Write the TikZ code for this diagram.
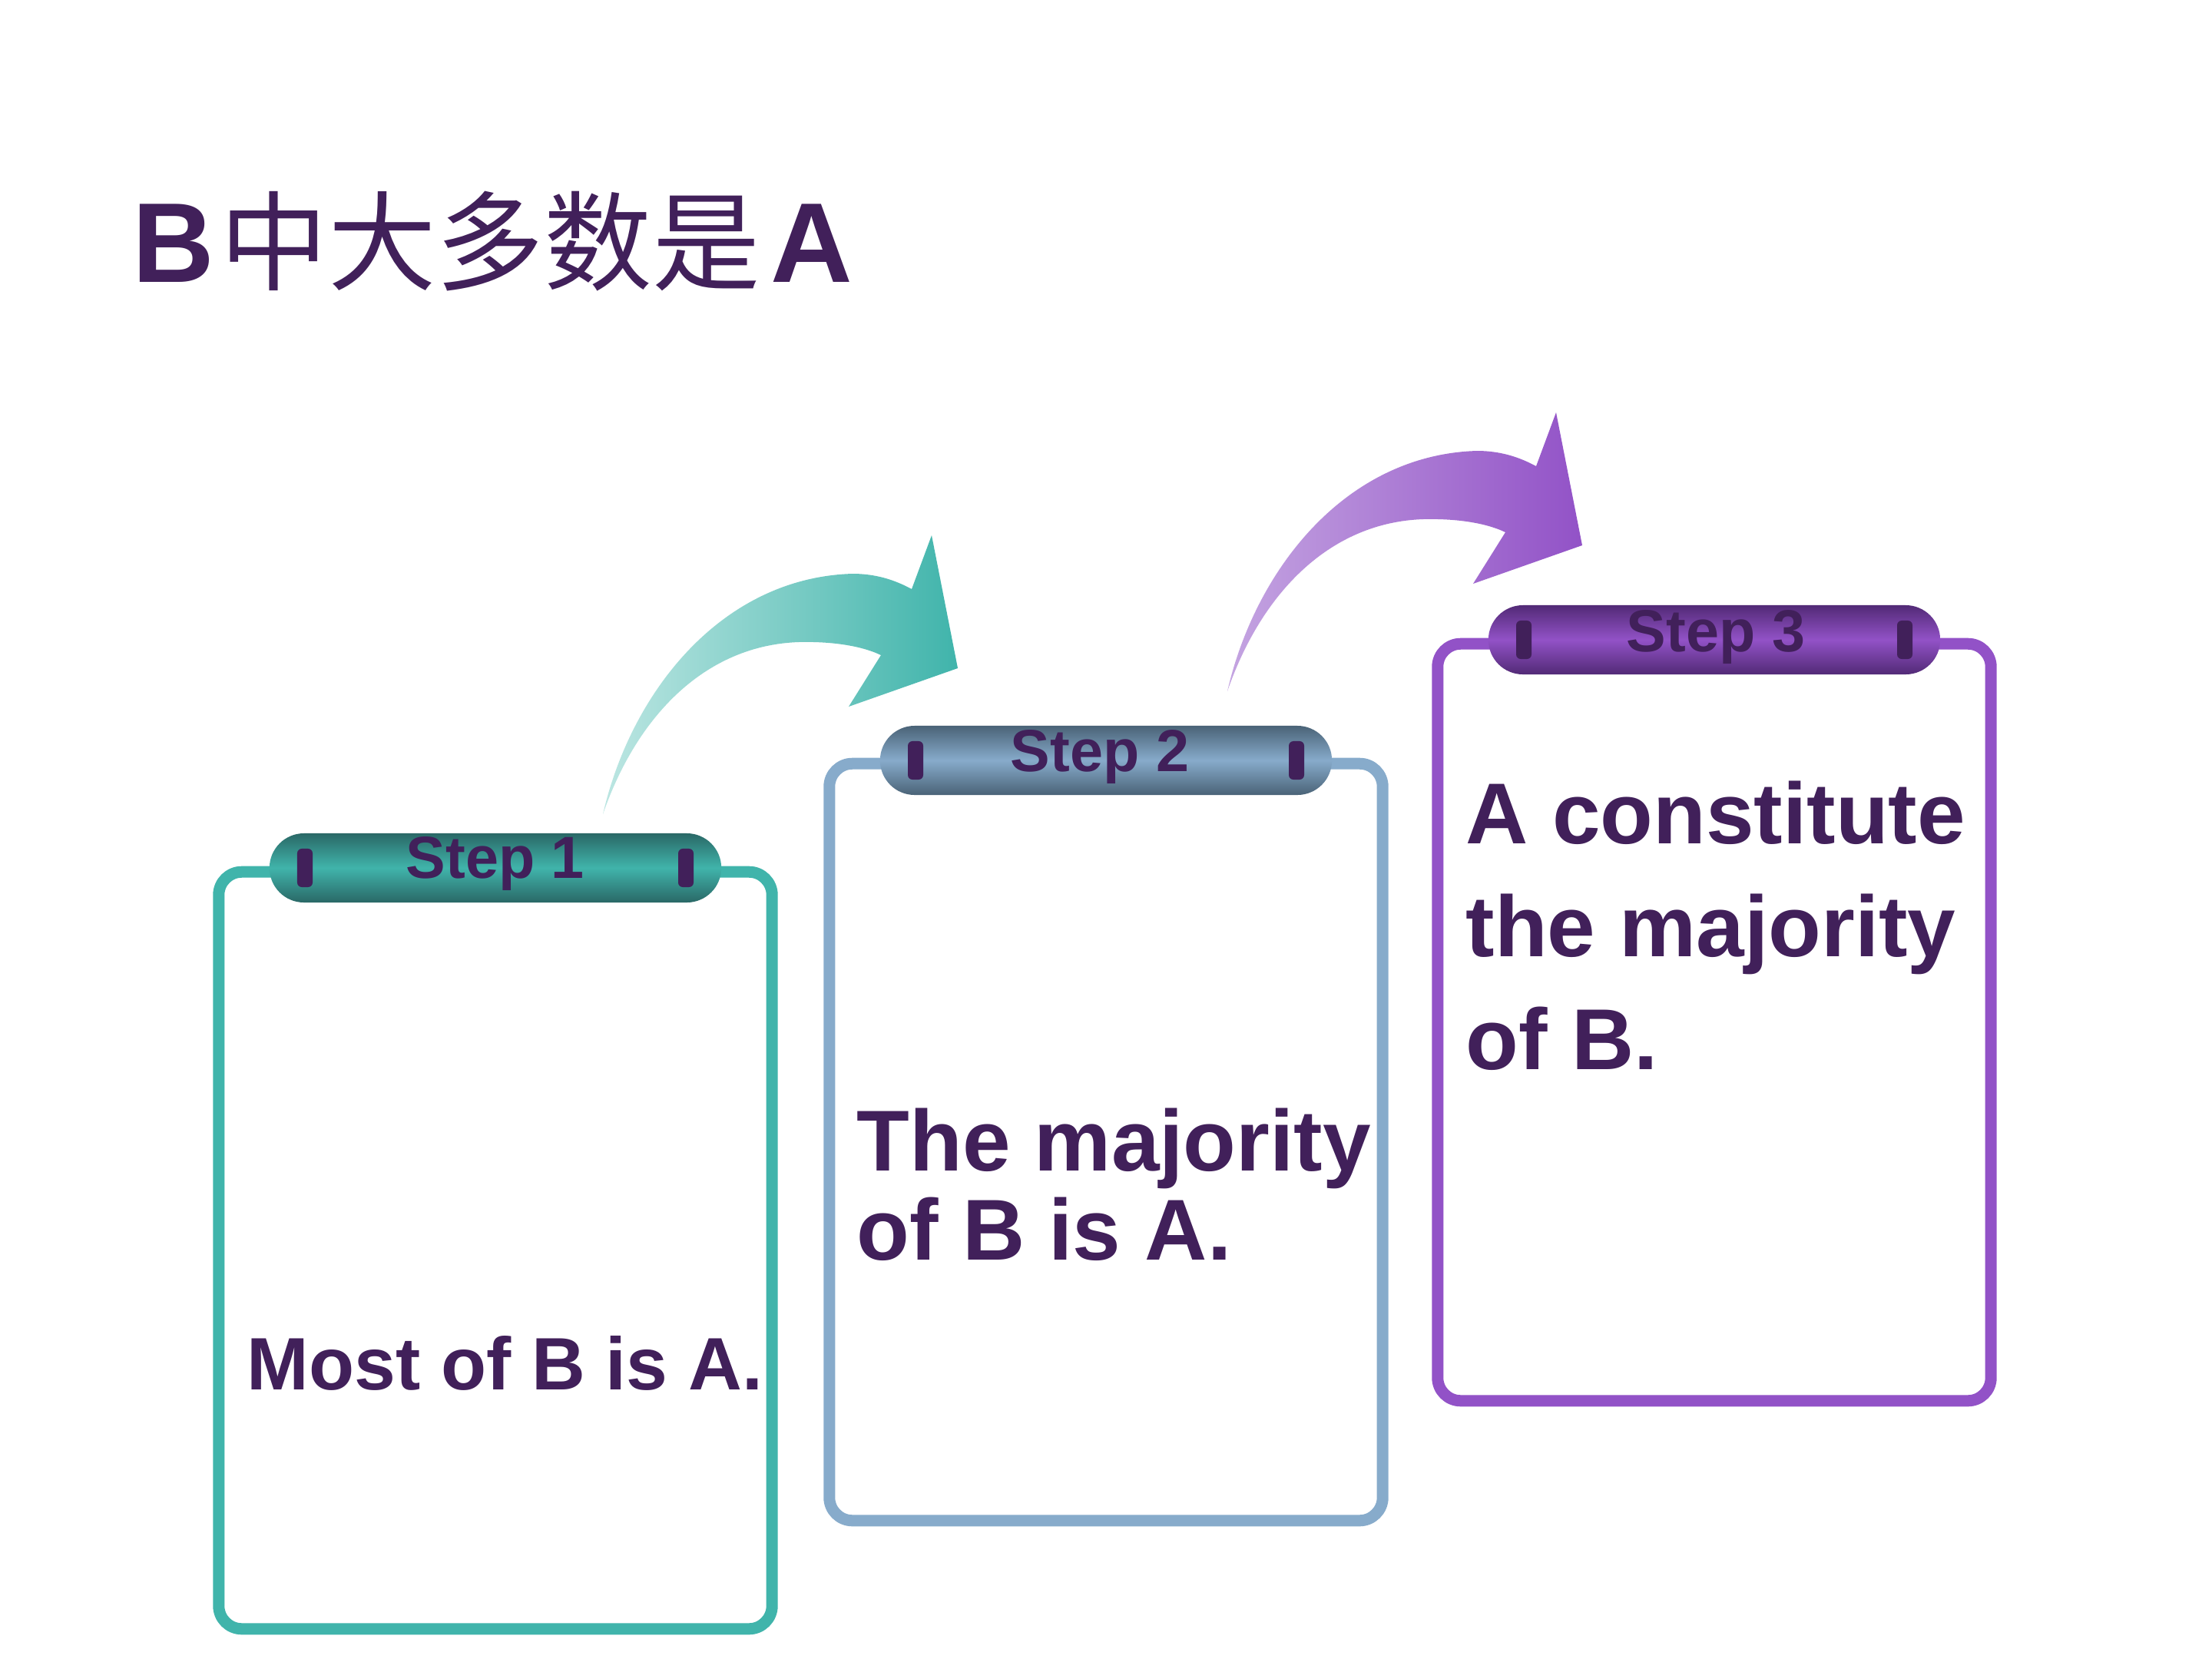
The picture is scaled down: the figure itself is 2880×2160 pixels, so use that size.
\documentclass[tikz,border=0pt]{standalone}
\usepackage{fontspec}
\setmainfont{Liberation Sans}
\newfontfamily\cjk{Noto Sans CJK SC}
\definecolor{ink}{HTML}{41205A}
\definecolor{tealc}{HTML}{40B4AB}
\definecolor{tealdark}{HTML}{2A6866}
\definecolor{tealpale}{HTML}{BCE6E2}
\definecolor{bluec}{HTML}{87ABCB}
\definecolor{bluedark}{HTML}{4A6377}
\definecolor{purc}{HTML}{9252C7}
\definecolor{purdark}{HTML}{522A76}
\definecolor{purpale}{HTML}{C4A4E1}
\newcommand{\myarrowpath}{(785,1060) .. controls (822,900) and (940,752) .. (1110,747)
  .. controls (1140,747) and (1165,755) .. (1187,767)
  -- (1213,697) -- (1247,870) -- (1105,920) -- (1147,853)
  .. controls (1120,840) and (1080,835) .. (1040,836)
  .. controls (920,840) and (830,930) .. (785,1060) -- cycle}
\begin{document}
\begin{tikzpicture}[x=0.01cm,y=-0.01cm,
  frame/.style={draw, line width=0.15cm, rounded corners=0.3cm, minimum width=7.2cm, minimum height=9.85cm, inner sep=0pt},
  tabbox/.style={rounded corners=0.45cm, minimum width=5.88cm, minimum height=0.9cm, inner sep=0pt},
  hole/.style={fill=ink, rounded corners=0.06cm, minimum width=0.2cm, minimum height=0.5cm, inner sep=0pt},
  steptext/.style={font=\fontsize{22}{26}\selectfont\bfseries, text=ink, inner sep=0pt, anchor=base},
  bodytext/.style={font=\fontsize{32}{36}\selectfont\bfseries, text=ink, inner sep=0pt, anchor=base west},
]
\useasboundingbox (0,0) rectangle (2880,2160);
\fill[white] (0,0) rectangle (2880,2160);

% title
\node[anchor=base west, inner sep=0pt, text=ink] (title) at (172,367)
  {\fontsize{42}{48}\selectfont\bfseries B\kern2pt{\cjk\mdseries\fontsize{40}{46}\selectfont 中大多数是}\kern4pt A};

% arrows
\shade[left color=tealpale, right color=tealc] \myarrowpath;
\begin{scope}[shift={(813,-160)}]
\shade[left color=purpale, right color=purc] \myarrowpath;
\end{scope}

% box 1
\node[frame, draw=tealc] (box1) at (645,1628) {};
\node[tabbox, top color=tealdark, bottom color=tealdark, middle color=tealc] (tab1) at (645,1130) {};
\node[hole] (h1a) at (397,1130) {};
\node[hole] (h1b) at (893,1130) {};
\node[steptext] (s1) at (645,1143) {Step 1};
\node[bodytext, font=\fontsize{27.5}{32}\selectfont\bfseries] (t1) at (321,1809) {Most of B is A.};

% box 2
\node[frame, draw=bluec] (box2) at (1440,1487) {};
\node[tabbox, top color=bluedark, bottom color=bluedark, middle color=bluec] (tab2) at (1440,990) {};
\node[hole] (h2a) at (1192,990) {};
\node[hole] (h2b) at (1688,990) {};
\node[steptext] (s2) at (1432,1004) {Step 2};
\node[bodytext] (t2a) at (1115,1524) {The majority};
\node[bodytext] (t2b) at (1115,1640) {of B is A.};

% box 3
\node[frame, draw=purc] (box3) at (2232,1331) {};
\node[tabbox, top color=purdark, bottom color=purdark, middle color=purc] (tab3) at (2232,833) {};
\node[hole] (h3a) at (1984,833) {};
\node[hole] (h3b) at (2480,833) {};
\node[steptext] (s3) at (2234,848) {Step 3};
\node[bodytext] (t3a) at (1908,1098) {A constitute};
\node[bodytext] (t3b) at (1908,1245) {the majority};
\node[bodytext] (t3c) at (1908,1392) {of B.};
\end{tikzpicture}
\end{document}
